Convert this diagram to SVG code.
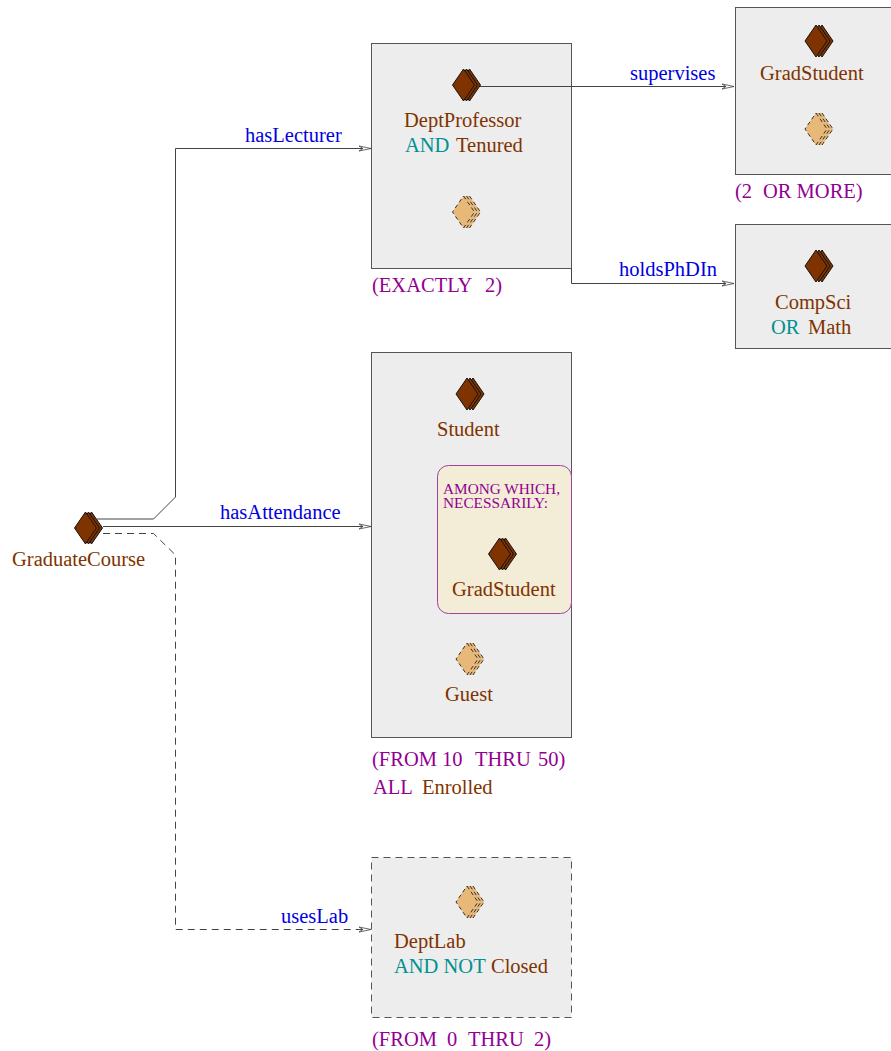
<svg xmlns="http://www.w3.org/2000/svg" width="891" height="1051" viewBox="0 0 891 1051">
<style>
text{font-family:"Liberation Serif","Times New Roman",serif;font-size:20.5px}
.n{fill:#7f3300}.k{fill:#009191}.r{fill:#0000e0}.c{fill:#910091}
.box{fill:#ededed;stroke:#555;stroke-width:1}
.dash{stroke-dasharray:7 5}
.w{fill:none;stroke:#444;stroke-width:1}
.d1{fill:#7f3300;stroke:#111;stroke-width:1;stroke-linejoin:miter}
.d2{fill:none;stroke:#333;stroke-width:1;stroke-dasharray:4 3}
.d2b{fill:#e8b878;stroke:none}
</style>
<defs>
<marker id="a" markerWidth="14" markerHeight="8" refX="12" refY="4" orient="auto" markerUnits="userSpaceOnUse"><path d="M0 1.500L12 4L0 6.500L4 4Z" fill="#fff" stroke="#444" stroke-width="0.8"/></marker>
<g id="solid"><path class="d1" d="M17 -16L28 0L17 16L6 0Z"/><path class="d1" d="M14 -16L25 0L14 16L3 0Z"/><path class="d1" d="M11 -16L22 0L11 16L0 0Z"/></g>
<g id="hollow"><path class="d2b" d="M11 -16L17 -16L28 0L17 16L11 16L0 0Z"/><path class="d2" d="M17 -16L28 0L17 16M14 -16L25 0L14 16M11 -16L22 0L11 16L0 0Z"/></g>
</defs>
<g id="node-graduate-course"><use href="#solid" x="74.500" y="528"/><text class="n" x="12" y="566">GraduateCourse</text></g>
<g id="node-dept-professor">
<rect class="box" x="371.500" y="43.500" width="200" height="225"/>
<use href="#solid" x="452.500" y="85"/>
<text class="n" x="404" y="127">DeptProfessor</text>
<text x="405" y="152"><tspan class="k">AND</tspan><tspan class="n" x="456">Tenured</tspan></text>
<use href="#hollow" x="452.500" y="212"/>
<text class="c" x="372" y="292"><tspan>(EXACTLY</tspan><tspan x="485">2)</tspan></text>
</g>
<g id="node-grad-student">
<rect class="box" x="735.500" y="7.500" width="157" height="167"/>
<use href="#solid" x="805" y="41"/>
<text class="n" x="760" y="80">GradStudent</text>
<use href="#hollow" x="805" y="129"/>
<text class="c" x="735" y="198"><tspan>(2</tspan><tspan x="763">OR MORE)</tspan></text>
</g>
<g id="node-compsci">
<rect class="box" x="735.500" y="224.500" width="157" height="124"/>
<use href="#solid" x="805" y="266"/>
<text class="n" x="775" y="309">CompSci</text>
<text x="771" y="334"><tspan class="k">OR</tspan><tspan class="n" x="808">Math</tspan></text>
</g>
<g id="node-student">
<rect class="box" x="371.500" y="352.500" width="200" height="385"/>
<use href="#solid" x="456" y="394"/>
<text class="n" x="437" y="436">Student</text>
<use href="#hollow" x="456" y="659"/>
<text class="n" x="445" y="701">Guest</text>
<text class="c" x="372" y="766"><tspan>(FROM 10</tspan><tspan x="475">THRU</tspan><tspan x="538">50)</tspan></text>
<text x="373" y="794"><tspan class="c">ALL</tspan><tspan class="n" x="422">Enrolled</tspan></text>
</g>
<g id="node-among">
<rect x="437.500" y="465.500" width="134" height="148" rx="11" fill="#f3edd7" stroke="#a040a0" stroke-width="1"/>
<text class="c" x="443" y="493.500" style="font-size:15.300px">AMONG WHICH,</text>
<text class="c" x="443" y="508" style="font-size:15.300px">NECESSARILY:</text>
<use href="#solid" x="488.500" y="554"/>
<text class="n" x="452" y="595.500">GradStudent</text>
</g>
<g id="node-dept-lab">
<rect class="box dash" x="371.500" y="857.500" width="200" height="160"/>
<use href="#hollow" x="456" y="902"/>
<text class="n" x="394" y="948">DeptLab</text>
<text x="394" y="973"><tspan class="k">AND NOT</tspan><tspan class="n" x="491">Closed</tspan></text>
<text class="c" x="372" y="1045.500"><tspan>(FROM</tspan><tspan x="447">0</tspan><tspan x="468">THRU</tspan><tspan x="534">2)</tspan></text>
</g>
<g id="connectors">
<path class="w" marker-end="url(#a)" d="M97 519H153.500L175.500 497V148.500H371"/>
<path class="w" marker-end="url(#a)" d="M103 526.500H371"/>
<path class="w dash" marker-end="url(#a)" d="M103 533.500H153.500L175.500 555V929.500H371"/>
<path class="w" marker-end="url(#a)" d="M480 86.500H734"/>
<path class="w" marker-end="url(#a)" d="M571.500 268V283.500H734"/>
<text class="r" x="245" y="141.500">hasLecturer</text>
<text class="r" x="220" y="519">hasAttendance</text>
<text class="r" x="281" y="923">usesLab</text>
<text class="r" x="630" y="80">supervises</text>
<text class="r" x="619" y="276">holdsPhDIn</text>
</g>
</svg>
